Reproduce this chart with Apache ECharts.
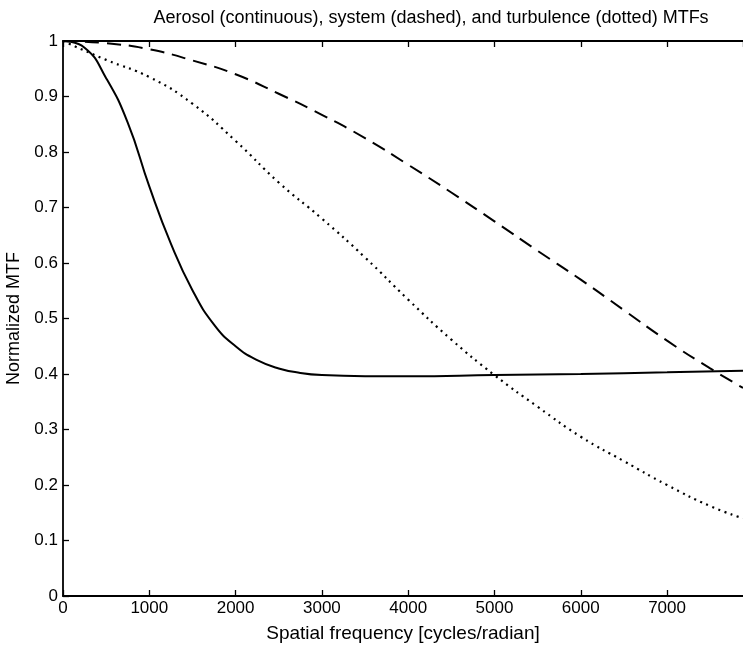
<!DOCTYPE html>
<html>
<head>
<meta charset="utf-8">
<script src="https://cdn.jsdelivr.net/npm/echarts@6/dist/echarts.min.js"></script>
<style>html,body{margin:0;padding:0;background:#fff;}#c{width:743px;height:650px;}</style>
</head>
<body>
<div id="c"></div>
<script>
const titleText = "Aerosol (continuous), system (dashed), and turbulence (dotted) MTFs";
const xName = "Spatial frequency [cycles/radian]";
const yName = "Normalized MTF";

const aerosolX = [0,250,500,750,1000,1250,1500,1750,2000,2250,2500,2750,3000,3500,4000,5000,6000,7000,7880];
const aerosolY = [1,0.988,0.933,0.853,0.738,0.635,0.551,0.489,0.45,0.425,0.41,0.402,0.398,0.396,0.396,0.398,0.4,0.403,0.406];

const systemX = [0,500,1000,1500,2000,2500,3000,3500,4000,4500,5000,5500,6000,6500,7000,7500,7880];
const systemY = [1,0.996,0.985,0.965,0.94,0.905,0.867,0.825,0.777,0.727,0.675,0.622,0.57,0.515,0.46,0.41,0.375];

const turbX = [0,500,1000,1500,2000,2500,3000,3500,4000,4500,5000,5500,6000,6500,7000,7500,7880];
const turbY = [1,0.966,0.935,0.887,0.82,0.745,0.68,0.61,0.534,0.462,0.398,0.341,0.287,0.243,0.2,0.162,0.14];

const xMin = 0, xMax = 7880, xStep = 1000;
const yMin = 0, yMax = 1, yStep = 0.1;

function pairs(xs, ys){ return xs.map((x,i)=>[x, ys[i]]); }

const font = "'Liberation Sans', Arial, sans-serif";
const chart = echarts.init(document.getElementById('c'));
chart.setOption({
  animation: false,
  backgroundColor: '#fff',
  title: {
    text: titleText, left: 426, top: 4, textAlign: 'center',
    textStyle: {fontFamily: font, fontSize: 18, fontWeight: 'normal', color: '#000'}
  },
  grid: {left: 63, right: 0, top: 41, bottom: 54, containLabel: false, outerBoundsMode: 'none'},
  xAxis: [{
    type: 'value', min: xMin, max: xMax, interval: xStep,
    name: xName, nameLocation: 'middle', nameGap: 28,
    nameTextStyle: {fontFamily: font, fontSize: 19, color: '#000'},
    axisLine: {show: true, onZero: false, lineStyle: {color: '#000', width: 1.8}},
    axisTick: {show: true, inside: true, length: 6, lineStyle: {color: '#000', width: 1.3}},
    axisLabel: {fontFamily: font, fontSize: 17, color: '#000', margin: 4, showMaxLabel: false,
      formatter: v => (v % 1000 === 0 ? String(v) : '')},
    splitLine: {show: false}
  },{
    type: 'value', position: 'top', min: xMin, max: xMax, interval: xStep,
    axisLine: {show: true, onZero: false, lineStyle: {color: '#000', width: 1.8}},
    axisTick: {show: true, inside: true, length: 6, lineStyle: {color: '#000', width: 1.3}},
    axisLabel: {show: false}, splitLine: {show: false}
  }],
  yAxis: {
    type: 'value', min: yMin, max: yMax, interval: yStep,
    name: yName, nameLocation: 'middle', nameGap: 37, nameRotate: 90,
    nameTextStyle: {fontFamily: font, fontSize: 18, color: '#000'},
    axisLine: {show: true, onZero: false, lineStyle: {color: '#000', width: 1.8}},
    axisTick: {show: true, inside: true, length: 6, lineStyle: {color: '#000', width: 1.3}},
    axisLabel: {fontFamily: font, fontSize: 17, color: '#000', margin: 5,
      formatter: v => (Math.abs(v - Math.round(v)) < 1e-9 ? String(Math.round(v)) : v.toFixed(1))},
    splitLine: {show: false}
  },
  series: [
    {type: 'line', name: 'aerosol', data: pairs(aerosolX, aerosolY), smooth: 0.5,
     symbol: 'none', lineStyle: {color: '#000', width: 2, type: 'solid'}},
    {type: 'line', name: 'system', data: pairs(systemX, systemY), smooth: 0.5,
     symbol: 'none', lineStyle: {color: '#000', width: 2, type: [14, 8]}},
    {type: 'line', name: 'turbulence', data: pairs(turbX, turbY), smooth: 0.5,
     symbol: 'none', lineStyle: {color: '#000', width: 2.2, type: [2, 4.5]}}
  ]
});
</script>
</body>
</html>
